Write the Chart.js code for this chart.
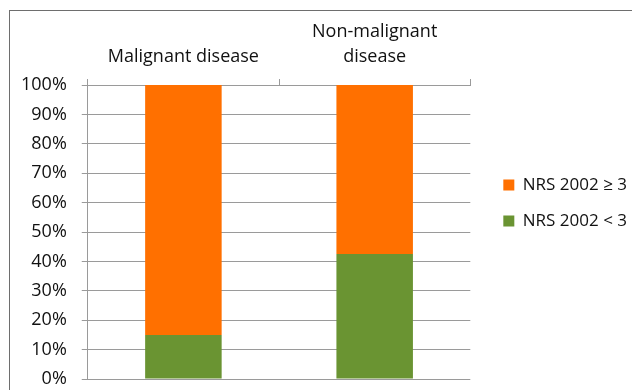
<!DOCTYPE html>
<html>
<head>
<meta charset="utf-8">
<script src="https://cdn.jsdelivr.net/npm/chart.js@4"></script>
<style>
  html, body { margin: 0; padding: 0; background: #fff; }
  #wrap { width: 632px; height: 390px; }
</style>
</head>
<body>
<div id="wrap"><canvas id="myChart" width="632" height="390"></canvas></div>
<script>
// chart values
const categories = [["Malignant disease"], ["Non-malignant", "disease"]];
const lowRisk = [15, 42.5];   // NRS 2002 < 3
const highRisk = [85, 57.5];  // NRS 2002 >= 3
const yTicks = [0, 10, 20, 30, 40, 50, 60, 70, 80, 90, 100];

const GRID = "#9a9a9a";
const FONT = { family: "'Open Sans', sans-serif", size: 18, lineHeight: 1.39 };
const LEGEND_FONT = { family: "'Open Sans', sans-serif", size: 17 };
const LEGEND_SHIFT_X = 14;
const LEGEND_SHIFT_Y = 9;

// draws the frame around the whole chart, nudges the legend
const pluginFrame = {
  id: "frame",
  afterLayout(chart) {
    chart.legend.left += LEGEND_SHIFT_X;
    chart.legend.right += LEGEND_SHIFT_X;
    chart.legend.top += LEGEND_SHIFT_Y;
    chart.legend.bottom += LEGEND_SHIFT_Y;
  },
  beforeDraw(chart) {
    const ctx = chart.ctx;
    ctx.save();
    ctx.fillStyle = "#fff";
    ctx.fillRect(0, 0, chart.width, chart.height);
    ctx.strokeStyle = "#6e6e6e";
    ctx.lineWidth = 1;
    ctx.strokeRect(9.5, 10.5, 700, 500);
    ctx.restore();
  },
};

const chartContext = document.getElementById("myChart").getContext("2d");

const chart = new Chart(chartContext, {
  type: "bar",
  data: {
    labels: categories,
    datasets: [
      {
        label: "NRS 2002 < 3",
        data: lowRisk,
        backgroundColor: "#6a9432",
      },
      {
        label: "NRS 2002 ≥ 3",
        data: highRisk,
        backgroundColor: "#ff7000",
      },
    ],
  },
  options: {
    responsive: false,
    animation: false,
    layout: { padding: { left: 6, top: 9, right: 9, bottom: 11 } },
    datasets: { bar: { barPercentage: 0.4, categoryPercentage: 1.0 } },
    scales: {
      x: {
        position: "top",
        stacked: true,
        grid: {
          display: true,
          drawOnChartArea: false,
          drawTicks: true,
          tickLength: 6,
          color: GRID,
        },
        border: { display: true, color: GRID },
        ticks: { color: "#111", font: FONT, padding: 10, maxRotation: 0 },
      },
      y: {
        stacked: true,
        min: 0,
        max: 100,
        afterBuildTicks(axis) {
          axis.ticks = yTicks.map((v) => ({ value: v }));
        },
        afterFit(axis) {
          axis.paddingTop = 0;
          axis.paddingBottom = 0;
        },
        grid: { color: GRID, tickLength: 6 },
        border: { display: true, color: GRID },
        ticks: {
          color: "#111",
          font: FONT,
          padding: 15,
          autoSkip: false,
          callback: (v) => v + "%",
        },
      },
    },
    plugins: {
      legend: {
        position: "right",
        reverse: true,
        labels: {
          boxWidth: 11,
          boxHeight: 11,
          padding: 19,
          color: "#111",
          font: LEGEND_FONT,
        },
      },
      tooltip: { enabled: false },
    },
  },
  plugins: [pluginFrame],
});
</script>
</body>
</html>
